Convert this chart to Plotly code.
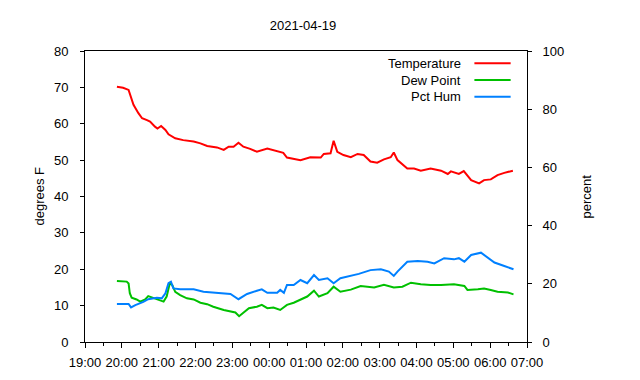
import plotly.graph_objects as go

# ---- data ----
temp_times = ["19:52","20:02","20:11","20:13","20:19","20:27","20:33","20:41","20:46","20:54",
              "20:58","21:04","21:11","21:16","21:27","21:40","21:57","22:08","22:19","22:35",
              "22:46","22:54","23:02","23:10","23:18","23:29","23:40","23:57","00:23","00:29",
              "00:51","01:07","01:24","01:29","01:40","01:45","01:51","02:01","02:13","02:24",
              "02:34","02:45","02:56","03:07","03:18","03:23","03:29","03:45","03:56","04:07",
              "04:23","04:40","04:51","04:56","05:09","05:17","05:29","05:42","05:50","06:01",
              "06:12","06:23","06:37"]
temp_vals = [70.2,69.9,69.3,68.4,65.2,62.9,61.5,61.0,60.6,59.2,
             58.7,59.4,58.3,57.1,56.0,55.5,55.1,54.6,53.9,53.5,
             52.8,53.7,53.7,54.8,53.7,53.1,52.3,53.2,52.0,50.7,
             50.0,50.8,50.7,51.7,51.9,55.3,52.3,51.4,50.8,51.7,
             51.4,49.6,49.3,50.2,50.8,52.1,50.0,47.7,47.7,47.1,
             47.7,47.1,46.2,46.9,46.2,47.0,44.5,43.6,44.5,44.7,
             45.9,46.5,47.1]

dew_times = ["19:52","20:08","20:11","20:13","20:16","20:24","20:30","20:38","20:43","20:52",
             "21:02","21:08","21:13","21:18","21:22","21:27","21:35","21:46","21:57","22:08",
             "22:19","22:29","22:46","22:57","23:05","23:11","23:18","23:27","23:40","23:48",
             "23:57","00:07","00:18","00:29","00:40","00:51","01:02","01:13","01:21","01:35",
             "01:45","01:56","02:13","02:29","02:51","03:07","03:23","03:37","03:51","04:07",
             "04:23","04:40","05:01","05:18","05:23","05:40","05:50","06:01","06:12","06:29",
             "06:38"]
dew_vals = [16.8,16.6,16.1,13.4,12.2,11.7,11.1,11.7,12.6,12.0,
            11.5,11.1,12.5,16.1,15.7,13.8,12.9,12.0,11.7,10.8,
            10.4,9.7,8.8,8.3,8.1,7.1,8.1,9.3,9.7,10.2,
            9.3,9.5,8.8,10.2,10.8,11.7,12.5,14.1,12.5,13.4,
            15.2,13.8,14.4,15.4,15.0,15.7,15.0,15.2,16.3,15.9,
            15.7,15.7,15.9,15.4,14.3,14.5,14.7,14.3,13.8,13.6,
            13.1]

hum_times = ["19:52","20:11","20:15","20:22","20:35","20:43","20:57","21:05","21:11","21:16",
             "21:20","21:24","21:35","21:57","22:13","22:35","22:57","23:10","23:24","23:40",
             "23:48","23:57","00:13","00:18","00:24","00:29","00:40","00:51","01:02","01:13",
             "01:21","01:35","01:45","01:56","02:13","02:26","02:45","03:02","03:15","03:23",
             "03:29","03:45","04:02","04:18","04:29","04:45","05:01","05:09","05:18","05:29",
             "05:45","05:56","06:07","06:23","06:38"]
hum_vals = [13.1,13.1,11.9,12.7,13.8,14.7,15.2,15.0,16.7,20.2,
            20.7,18.4,18.1,18.1,17.3,16.9,16.5,14.7,16.5,17.6,
            18.1,16.9,16.9,17.9,16.9,19.6,19.6,21.3,20.2,23.0,
            21.3,21.9,20.2,21.9,22.7,23.4,24.7,25.0,24.2,22.7,
            24.2,27.6,27.8,27.6,27.0,28.8,28.4,28.8,27.6,29.9,
            30.7,29.1,27.3,26.1,25.0]

series_names = ["Temperature", "Dew Point", "Pct Hum"]
series_colors = ["#ff0000", "#00c000", "#0080ff"]
x_tick_labels = ["19:00","20:00","21:00","22:00","23:00","00:00","01:00",
                 "02:00","03:00","04:00","05:00","06:00","07:00"]


def to_dt(hm):
    h = int(hm[:2])
    day = "2021-04-19" if h >= 19 else "2021-04-20"
    return f"{day} {hm}:00"


FONT = "Liberation Sans, Arial, sans-serif"
fig = go.Figure()
fig.add_trace(go.Scatter(x=[to_dt(t) for t in temp_times], y=temp_vals, mode="lines",
                         name=series_names[0], line=dict(color=series_colors[0], width=2)))
fig.add_trace(go.Scatter(x=[to_dt(t) for t in dew_times], y=dew_vals, mode="lines",
                         name=series_names[1], line=dict(color=series_colors[1], width=2)))
fig.add_trace(go.Scatter(x=[to_dt(t) for t in hum_times], y=hum_vals, mode="lines",
                         name=series_names[2], line=dict(color=series_colors[2], width=2),
                         yaxis="y2"))

fig.update_layout(
    width=640, height=380, autosize=False,
    margin=dict(l=85, r=113, t=51, b=38, pad=0, autoexpand=False),
    paper_bgcolor="white", plot_bgcolor="white",
    font=dict(family=FONT, size=13, color="black"),
    showlegend=False,
    title=dict(text="2021-04-19", x=303/640, xanchor="center", y=1-25/380,
               yanchor="middle", font=dict(size=13)),
    xaxis=dict(type="date", automargin=False,
               range=[to_dt("19:00"), to_dt("07:00")],
               tickvals=[to_dt(t) for t in x_tick_labels], ticktext=x_tick_labels,
               showgrid=False, zeroline=False, showline=True, linecolor="black",
               linewidth=1, mirror=True, ticks="outside", ticklen=5, tickcolor="black",
               ticklabelstandoff=3,
               minor=dict(dtick=1800000, ticks="outside", ticklen=3, tickcolor="black",
                          showgrid=False, tick0=to_dt("19:00"))),
    yaxis=dict(range=[0, 80], dtick=10, showgrid=False, zeroline=False, showline=True,
               automargin=False,
               linecolor="black", linewidth=1, ticks="outside", ticklen=4,
               tickcolor="black", ticklabelstandoff=9),
    yaxis2=dict(range=[0, 100], dtick=20, overlaying="y", side="right", showgrid=False,
                automargin=False,
                zeroline=False, showline=True, linecolor="black", linewidth=1,
                ticks="outside", ticklen=4, tickcolor="black", ticklabelstandoff=8),
)

# axis titles
fig.add_annotation(text="degrees F", xref="paper", yref="paper", x=0, y=0.5,
                   xshift=-46, textangle=-90, showarrow=False, xanchor="center",
                   yanchor="middle")
fig.add_annotation(text="percent", xref="paper", yref="paper", x=1, y=0.5,
                   xshift=59, textangle=-90, showarrow=False, xanchor="center",
                   yanchor="middle")

# gnuplot-style legend: text right, sample line after it
leg_y = [0.9577, 0.9003, 0.843]
for name, col, yy in zip(series_names, series_colors, leg_y):
    fig.add_annotation(text=name, xref="paper", yref="paper", x=0.856, y=yy,
                       showarrow=False, xanchor="right", yanchor="middle")
    fig.add_shape(type="line", xref="paper", yref="paper", x0=0.881, x1=0.963,
                  y0=yy, y1=yy, line=dict(color=col, width=2))

fig.write_html("out.html", config={"displayModeBar": False},
               post_script="document.body.style.margin='0';document.body.style.overflow='hidden';")
